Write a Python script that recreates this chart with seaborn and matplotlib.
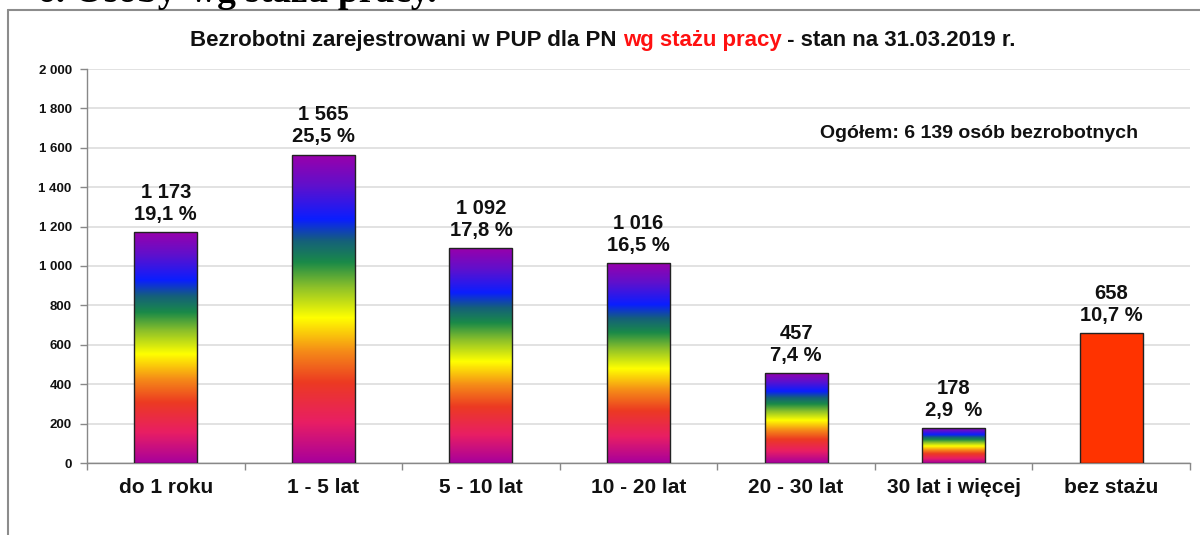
import numpy as np
import matplotlib
matplotlib.use("Agg")
import matplotlib.pyplot as plt
import seaborn as sns
from matplotlib.colors import LinearSegmentedColormap
from matplotlib.lines import Line2D

categories = ["do 1 roku", "1 - 5 lat", "5 - 10 lat", "10 - 20 lat",
              "20 - 30 lat", "30 lat i więcej", "bez stażu"]
values = [1173, 1565, 1092, 1016, 457, 178, 658]
percents = ["19,1 %", "25,5 %", "17,8 %", "16,5 %", "7,4 %", "2,9  %", "10,7 %"]
yticks = [0, 200, 400, 600, 800, 1000, 1200, 1400, 1600, 1800, 2000]

sns.set_theme(style="white")
plt.rcParams['font.family'] = ['Liberation Sans', 'DejaVu Sans']

fig = plt.figure(figsize=(12, 5.35), dpi=100)
ax = fig.add_axes([87/1200, 1-463/535, (1190-87)/1200, (463-69)/535])

sns.barplot(x=categories, y=values, order=categories, width=0.4,
            color="#FF3300", edgecolor="#222222", linewidth=1.0, ax=ax,
            saturation=1, zorder=3)

rainbow = LinearSegmentedColormap.from_list("rb", [
    (0.00, "#A8009C"),
    (0.13, "#E81E64"),
    (0.26, "#EC3A22"),
    (0.36, "#F58A18"),
    (0.47, "#FFFF00"),
    (0.57, "#8CC02A"),
    (0.65, "#1A8A48"),
    (0.72, "#15607A"),
    (0.79, "#0A1EFF"),
    (0.90, "#6010CC"),
    (1.00, "#9A00AA"),
])
grad = np.linspace(0, 1, 256).reshape(-1, 1)

patches = list(ax.patches)
for i, p in enumerate(patches[:-1]):
    x0, y0 = p.get_x(), p.get_y()
    w, h = p.get_width(), p.get_height()
    im = ax.imshow(grad, cmap=rainbow, aspect='auto', origin='lower',
                   extent=[x0, x0 + w, y0, y0 + h], zorder=3,
                   interpolation='bilinear')
    im.set_clip_path(p)
    p.set_facecolor("none")
    p.set_zorder(4)

for p, v, pc in zip(patches, values, percents):
    cx = p.get_x() + p.get_width() / 2
    txt = f"{v:,}".replace(",", " ") + "\n" + pc
    ax.annotate(txt, xy=(cx, p.get_height()), xytext=(0, 6),
                textcoords="offset points", ha="center", va="bottom",
                fontsize=14.5, fontweight="bold", color="#111111",
                linespacing=1.2, multialignment="center")

ax.set_xlim(-0.5, len(categories) - 0.5)
ax.set_ylim(0, 2000)
ax.set_yticks(yticks)
ax.set_yticklabels([f"{t:,}".replace(",", " ") for t in yticks],
                   fontsize=9.5, fontweight="bold", color="#111111")
ax.set_xticks(range(len(categories)))
ax.set_xticklabels(categories, fontsize=15, fontweight="bold", color="#111111")
ax.set_xticks(np.arange(-0.5, len(categories)), minor=True)
ax.tick_params(axis="x", which="major", length=0, pad=11)
ax.tick_params(axis="x", which="minor", length=5, width=1, color="#888888",
               direction="out", bottom=True)
ax.tick_params(axis="y", which="major", length=5, width=1, color="#888888",
               direction="out", left=True, pad=6)
ax.yaxis.grid(True, color="#DDDDDD", linewidth=1.2, zorder=0)
ax.set_axisbelow(True)
for s in ["top", "right"]:
    ax.spines[s].set_visible(False)
for s in ["left", "bottom"]:
    ax.spines[s].set_color("#888888")
    ax.spines[s].set_linewidth(1)
ax.set_xlabel("")
ax.set_ylabel("")

ax.text(1138/1200, 1-133/535, "Ogółem: 6 139 osób bezrobotnych",
        transform=fig.transFigure, ha="right", va="center",
        fontsize=14, fontweight="bold", color="#111111")

# multi-coloured title
fs_title = 16
inv = fig.transFigure.inverted()
t1 = fig.text(190/1200, 1-46/535, "Bezrobotni zarejestrowani w PUP dla PN ",
              ha="left", va="baseline", fontsize=fs_title, fontweight="bold",
              color="#111111")
t2 = fig.text(0, 1-46/535, "wg stażu pracy", fontsize=fs_title, fontweight="bold",
              color="#FF1010", ha="left", va="baseline")
t3 = fig.text(0, 1-46/535, " - stan na 31.03.2019 r.", fontsize=fs_title,
              fontweight="bold", color="#111111", ha="left", va="baseline")
fig.canvas.draw()
r = fig.canvas.get_renderer()
bb1 = t1.get_window_extent(r)
t2.set_x(inv.transform((bb1.x1, 0))[0])
fig.canvas.draw()
bb2 = t2.get_window_extent(r)
t3.set_x(inv.transform((bb2.x1, 0))[0])

# frame around the chart
fig.add_artist(Line2D([8/1200, 8/1200], [0, 1-10/535], transform=fig.transFigure,
                      color="#8C8C8C", linewidth=1.5))
fig.add_artist(Line2D([8/1200, 1], [1-10/535, 1-10/535], transform=fig.transFigure,
                      color="#8C8C8C", linewidth=1.5))

# cut-off heading above the chart
serif = ["Liberation Serif", "DejaVu Serif"]
fig.text(186/1200, 1-2.5/535, "6. Osoby ", ha="right", va="baseline",
         fontsize=27, fontweight="bold", color="#000000", family=serif)
fig.text(190/1200, 1-2.5/535, "wg stażu pracy.", ha="left", va="baseline",
         fontsize=27, fontweight="bold", color="#000000", family=serif)

fig.savefig("out.png", dpi=100)
